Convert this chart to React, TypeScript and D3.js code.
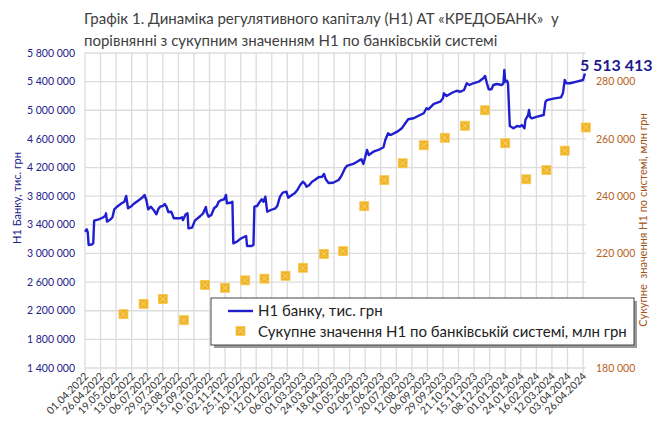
import React, { useEffect, useRef } from 'react';
import * as d3 from 'd3';

// підписи осі X (кожна 17-та точка ряду)
const xLabels = [
  '01.04.2022', '26.04.2022', '19.05.2022', '13.06.2022', '06.07.2022', '29.07.2022',
  '23.08.2022', '15.09.2022', '10.10.2022', '02.11.2022', '25.11.2022', '20.12.2022',
  '12.01.2023', '06.02.2023', '01.03.2023', '24.03.2023', '18.04.2023', '10.05.2023',
  '02.06.2023', '27.06.2023', '20.07.2023', '12.08.2023', '06.09.2023', '29.09.2023',
  '21.10.2023', '15.11.2023', '08.12.2023', '01.01.2024', '24.01.2024', '16.02.2024',
  '12.03.2024', '03.04.2024', '26.04.2024'
];
const labelStep = 17;
const lastPoint = 547;

// Н1 банку, тис. грн: [номер робочого дня, значення]
const bankH1: [number, number][] = [
  [0, 3304000], [2, 3337000], [3, 3296000], [4, 3118000], [8, 3128000], [9, 3142000],
  [10, 3458000], [15, 3477000], [19, 3499000], [22, 3523000], [23, 3561000], [24, 3444000],
  [28, 3477000], [30, 3505000], [32, 3617000], [35, 3653000], [40, 3701000], [43, 3723000],
  [45, 3803000], [47, 3631000], [51, 3663000], [53, 3691000], [58, 3737000], [63, 3784000],
  [65, 3817000], [67, 3747000], [69, 3617000], [72, 3653000], [74, 3621000], [75, 3607000],
  [78, 3547000], [80, 3617000], [82, 3653000], [85, 3663000], [87, 3691000], [89, 3653000],
  [91, 3579000], [94, 3583000], [95, 3561000], [97, 3491000], [104, 3491000], [106, 3505000],
  [107, 3467000], [110, 3547000], [112, 3561000], [113, 3351000], [117, 3360000], [120, 3458000],
  [126, 3523000], [129, 3561000], [132, 3649000], [133, 3572000], [135, 3513000], [138, 3537000],
  [141, 3631000], [144, 3663000], [146, 3723000], [149, 3747000], [152, 3756000], [154, 3817000],
  [155, 3701000], [159, 3709000], [161, 3723000], [162, 3142000], [166, 3164000], [169, 3198000],
  [173, 3226000], [176, 3244000], [177, 3104000], [182, 3104000], [184, 3118000], [185, 3653000],
  [188, 3663000], [191, 3723000], [193, 3756000], [195, 3723000], [197, 3793000], [199, 3583000],
  [203, 3607000], [208, 3631000], [210, 3663000], [213, 3793000], [216, 3849000], [220, 3863000],
  [222, 3779000], [226, 3817000], [229, 3840000], [232, 3886000], [235, 3956000], [238, 4002000],
  [240, 3980000], [242, 3932000], [245, 3956000], [248, 4002000], [251, 4026000], [255, 4064000],
  [259, 4072000], [261, 4110000], [263, 4036000], [266, 3984000], [271, 3988000], [277, 4026000],
  [280, 4082000], [284, 4189000], [286, 4222000], [293, 4250000], [299, 4296000], [302, 4315000],
  [304, 4250000], [306, 4343000], [308, 4445000], [310, 4375000], [315, 4421000], [322, 4455000],
  [326, 4483000], [328, 4585000], [331, 4678000], [334, 4655000], [341, 4701000], [346, 4748000],
  [351, 4840000], [353, 4874000], [359, 4888000], [366, 4934000], [370, 4958000], [373, 5028000],
  [375, 5014000], [381, 5088000], [388, 5120000], [391, 5167000], [392, 5237000], [395, 5199000],
  [401, 5245000], [406, 5273000], [410, 5259000], [414, 5283000], [417, 5377000], [420, 5353000],
  [424, 5377000], [430, 5399000], [435, 5447000], [437, 5479000], [439, 5377000], [441, 5293000],
  [444, 5293000], [446, 5353000], [450, 5367000], [455, 5353000], [457, 5377000], [458, 5563000],
  [459, 5399000], [461, 5413000], [462, 5377000], [464, 4780000], [468, 4748000], [472, 4780000],
  [475, 4771000], [477, 4794000], [480, 4748000], [481, 4864000], [484, 4934000], [485, 5004000],
  [486, 4910000], [488, 4888000], [494, 4910000], [501, 4934000], [503, 5120000], [505, 5144000],
  [508, 5153000], [513, 5167000], [520, 5181000], [522, 5237000], [524, 5423000], [526, 5377000],
  [530, 5377000], [537, 5399000], [544, 5423000], [546, 5513413]
];

// Сукупне значення Н1 по банківській системі, млн грн (щомісяця)
const systemH1: [number, number][] = [
  [42, 198800], [64, 202400], [85, 204100], [108, 196700], [131, 209000], [153, 208000],
  [175, 210600], [196, 211200], [219, 212200], [238, 215000], [261, 219800], [282, 220800],
  [305, 236500], [327, 245600], [347, 251500], [370, 257800], [393, 260400], [415, 264600],
  [437, 270000], [459, 258500], [482, 245900], [504, 249100], [524, 255900], [547, 264000]
];

const leftTicks = [1400000, 1800000, 2200000, 2600000, 3000000, 3400000, 3800000, 4200000, 4600000, 5000000, 5400000, 5800000];
const rightTicks = [180000, 200000, 220000, 240000, 260000, 280000];

const titleLines = [
  'Графік 1. Динаміка регулятивного капіталу (Н1) АТ «КРЕДОБАНК»  у',
  'порівнянні з сукупним значенням Н1 по банківській системі'
];
const leftTitle = 'Н1 Банку, тис. грн';
const rightTitle = 'Сукупне  значення Н1 по системі, млн грн';
const legendNames = ['Н1 банку, тис. грн', 'Сукупне значення Н1 по банківській системі, млн грн'];

const font = 'Lato, "Open Sans", sans-serif';
const blue = '#1f1fd0';
const gold = '#f0b322';

const App = () => {
  const ref = useRef<SVGSVGElement>(null);

  useEffect(() => {
    const width = 660;
    const height = 435;
    const left = 85, right = 585.8, top = 53, bottom = 368;

    const svg = d3.select(ref.current);
    svg.selectAll('*').remove();
    svg.attr('width', width).attr('height', height);

    const fmt = d3.formatLocale({ decimal: ',', thousands: '\u00a0', grouping: [3], currency: ['', ''] }).format(',');

    const x = d3.scaleLinear().domain([0, lastPoint]).range([left, right]);
    const y = d3.scaleLinear().domain([1400000, 5800000]).range([bottom, top]);
    const y2 = d3.scaleLinear().domain([180000, 290000]).range([bottom, top]);

    // сітка
    const grid = svg.append('g').attr('stroke', '#dcdcdc').attr('stroke-width', 1.3);
    grid.selectAll('.h').data(leftTicks).enter().append('line')
      .attr('x1', left).attr('x2', right)
      .attr('y1', d => y(d)).attr('y2', d => y(d));
    grid.selectAll('.v').data(xLabels).enter().append('line')
      .attr('x1', (d, i) => x(i * labelStep)).attr('x2', (d, i) => x(i * labelStep))
      .attr('y1', top).attr('y2', bottom + 5);

    // ліва вісь
    svg.append('g').selectAll('text').data(leftTicks).enter().append('text')
      .attr('x', 75).attr('y', d => y(d)).attr('dy', '0.35em')
      .attr('text-anchor', 'end').attr('font-family', font).attr('font-size', 10.5)
      .attr('fill', '#22228a').text(d => fmt(d));

    // права вісь
    svg.append('g').selectAll('text').data(rightTicks).enter().append('text')
      .attr('x', 596).attr('y', d => y2(d)).attr('dy', '0.35em')
      .attr('font-family', font).attr('font-size', 10.5)
      .attr('fill', '#b5621c').text(d => fmt(d));

    // підписи осі X
    svg.append('g').selectAll('text').data(xLabels).enter().append('text')
      .attr('transform', (d, i) => `translate(${x(i * labelStep) + 4},${bottom + 9}) rotate(-45)`)
      .attr('text-anchor', 'end').attr('font-family', font).attr('font-size', 10.5)
      .attr('fill', '#333').text(d => d);

    // назви осей
    svg.append('text')
      .attr('transform', `translate(21,198) rotate(-90)`)
      .attr('text-anchor', 'middle').attr('font-family', font).attr('font-size', 11)
      .attr('fill', '#22228a').text(leftTitle);
    svg.append('text')
      .attr('transform', `translate(647,220) rotate(-90)`)
      .attr('text-anchor', 'middle').attr('font-family', font).attr('font-size', 11)
      .attr('fill', '#a4531b').style('white-space', 'pre').text(rightTitle);

    // лінія Н1 банку
    const line = d3.line<[number, number]>().x(d => x(d[0])).y(d => y(d[1]));
    svg.append('path').datum(bankH1)
      .attr('d', line).attr('fill', 'none').attr('stroke', blue)
      .attr('stroke-width', 2.4).attr('stroke-linejoin', 'round');

    // маркери системи
    const marker = (g, cx, cy) => {
      g.append('rect').attr('x', cx - 4.5).attr('y', cy - 4.5).attr('width', 9).attr('height', 9)
        .attr('fill', gold).attr('stroke', '#f6c95a').attr('stroke-width', 0.8);
      g.append('path').attr('d', `M${cx - 3},${cy - 3}L${cx + 3},${cy + 3}M${cx + 3},${cy - 3}L${cx - 3},${cy + 3}`)
        .attr('stroke', '#f8d98c').attr('stroke-width', 0.8);
    };
    const pts = svg.append('g');
    systemH1.forEach(d => marker(pts, x(d[0]), y2(d[1])));

    // підпис останнього значення
    const last = bankH1[bankH1.length - 1];
    svg.append('text')
      .attr('x', x(last[0]) - 5).attr('y', y(last[1]) - 3)
      .attr('font-family', font).attr('font-size', 16).attr('font-weight', 'bold')
      .attr('fill', '#1a1a8c').text(fmt(last[1]));

    // легенда
    const lg = svg.append('g').attr('transform', 'translate(211,298)');
    lg.append('rect').attr('x', 3).attr('y', 3).attr('width', 423).attr('height', 47).attr('fill', '#9a9a9a');
    lg.append('rect').attr('width', 423).attr('height', 47).attr('fill', '#fff').attr('stroke', '#444').attr('stroke-width', 1);
    lg.append('line').attr('x1', 17).attr('x2', 42).attr('y1', 13).attr('y2', 13)
      .attr('stroke', blue).attr('stroke-width', 2.4);
    marker(lg, 29.5, 33);
    lg.selectAll('.t').data(legendNames).enter().append('text')
      .attr('x', 47).attr('y', (d, i) => 18 + i * 21)
      .attr('font-family', font).attr('font-size', 15).attr('fill', '#222').text(d => d);

    // заголовок
    svg.append('g').selectAll('text').data(titleLines).enter().append('text')
      .attr('x', 84).attr('y', (d, i) => 24 + i * 22)
      .attr('font-family', font).attr('font-size', 15).attr('fill', '#404040')
      .style('white-space', 'pre').text(d => d);
  }, []);

  return <svg ref={ref} style={{ position: 'absolute', left: 0, top: 0 }} />;
};

export default App;
